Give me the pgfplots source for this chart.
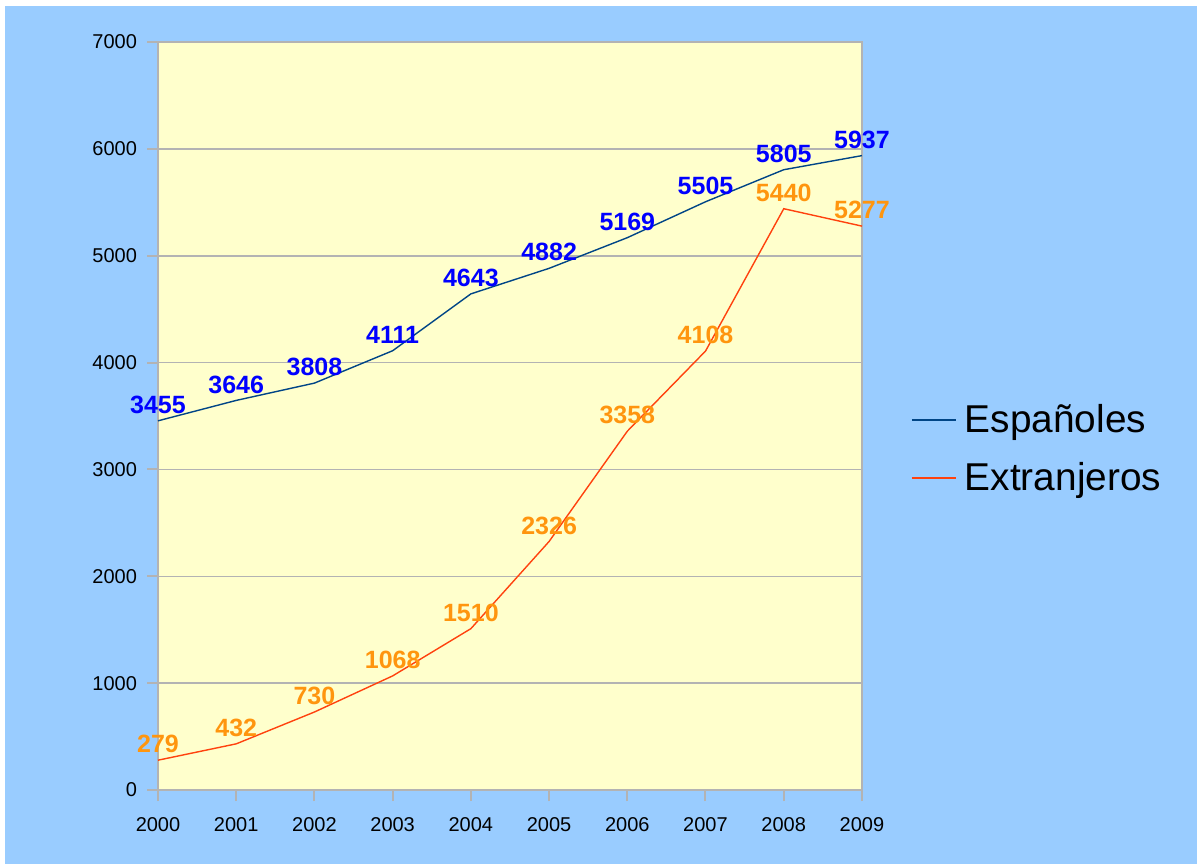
\documentclass[border=0pt]{standalone}
\usepackage{pgfplots}
\pgfplotsset{compat=1.18}
\usepackage{fontspec}
\setmainfont{Liberation Sans}
\definecolor{bgblue}{HTML}{99CCFF}
\definecolor{plotyellow}{HTML}{FFFFCC}
\definecolor{gridgray}{HTML}{B3B3B3}
\definecolor{espline}{HTML}{004586}
\definecolor{extline}{HTML}{FF420E}
\definecolor{esplab}{HTML}{0000FF}
\definecolor{extlab}{HTML}{FF950E}
\begin{document}
\begin{tikzpicture}
\fill[white] (0,0) rectangle (598.5pt,432pt);
\fill[bgblue] (2.5pt,0) rectangle (598.5pt,429pt);
\begin{axis}[
  at={(79pt,37pt)}, anchor=south west,
  scale only axis, width=352pt, height=374pt,
  xmin=2000, xmax=2009, ymin=0, ymax=7000,
  xtick={2000,...,2009}, ytick={0,1000,...,7000},
  /pgf/number format/1000 sep={},
  /pgf/number format/assume math mode=true,
  axis background/.style={fill=plotyellow},
  axis line style={gridgray, line width=0.8pt},
  major tick style={gridgray, line width=1pt},
  tick align=outside, major tick length=5.5pt,
  xtick pos=bottom, ytick pos=left,
  ymajorgrids, grid style={gridgray, line width=0.8pt},
  tick label style={font=\fontsize{10}{12}\selectfont, black},
  xticklabel style={yshift=-4.5pt},
  yticklabel style={xshift=-1.5pt},
  clip=false,
  legend style={at={(1.0605,0.4555)}, anchor=west, draw=none, fill=none,
    font=\fontsize{19.4}{23}\selectfont, row sep=9.5pt,
    legend cell align=left},
  legend image code/.code={\draw[#1, line width=0.9pt] (0pt,0pt) -- (22pt,0pt); \path[draw=none] (0pt,0pt) -- (24.5pt,0pt);},
  nodes near coords,
  every node near coord/.append style={anchor=center, yshift=8pt, font=\fontsize{12.5}{14}\selectfont\bfseries},
]
\addplot[espline, line width=0.7pt, nodes near coords style={esplab}] coordinates {
(2000,3455) (2001,3646) (2002,3808) (2003,4111) (2004,4643)
(2005,4882) (2006,5169) (2007,5505) (2008,5805) (2009,5937)};
\addlegendentry{Españoles}
\addplot[extline, line width=0.7pt, nodes near coords style={extlab}] coordinates {
(2000,279) (2001,432) (2002,730) (2003,1068) (2004,1510)
(2005,2326) (2006,3358) (2007,4108) (2008,5440) (2009,5277)};
\addlegendentry{Extranjeros}
\end{axis}
\end{tikzpicture}
\end{document}
